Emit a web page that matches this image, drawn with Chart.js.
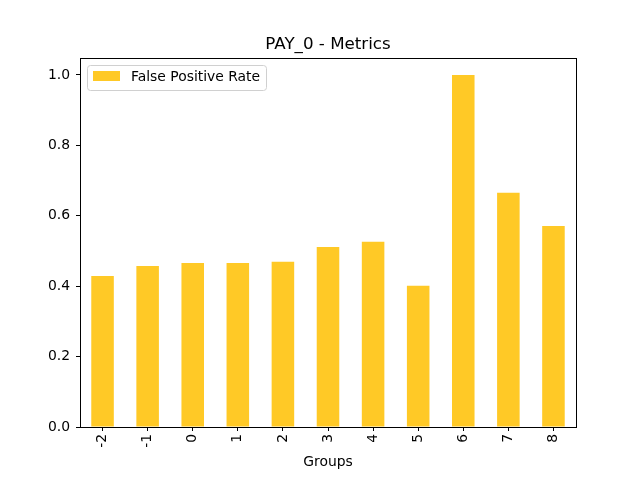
<!DOCTYPE html>
<html>
<head>
<meta charset="utf-8">
<script src="https://cdn.jsdelivr.net/npm/chart.js@4/dist/chart.umd.min.js"></script>
<style>
  html, body { margin: 0; padding: 0; background: #fff; }
  #myChart { display: block; }
</style>
</head>
<body>
<canvas id="myChart" width="640" height="480"></canvas>
<script>
const groups = ['-2', '-1', '0', '1', '2', '3', '4', '5', '6', '7', '8'];
const falsePositiveRate = [0.429, 0.457, 0.466, 0.466, 0.469, 0.511, 0.526, 0.401, 1.0, 0.665, 0.571];
const yTicks = [0.0, 0.2, 0.4, 0.6, 0.8, 1.0];

const barColor = '#ffc926';
const fontFamily = '"DejaVu Sans", sans-serif';

// title, frame and legend drawn the matplotlib way
const mplExtras = {
    id: 'mplExtras',
    afterDraw(chart) {
        const ctx = chart.ctx;
        const area = chart.chartArea;
        ctx.save();
        ctx.strokeStyle = '#000';
        ctx.lineWidth = 1;
        ctx.strokeRect(Math.round(area.left) + 0.5, Math.round(area.top) + 0.5,
            Math.round(area.right - area.left), Math.round(area.bottom - area.top));

        ctx.fillStyle = '#000';
        ctx.font = '16.7px ' + fontFamily;
        ctx.textAlign = 'center';
        ctx.textBaseline = 'middle';
        ctx.fillText('PAY_0 - Metrics', (area.left + area.right) / 2, 45);

        // legend box
        const lx = area.left + 7.5, ly = area.top + 7.5, lw = 179, lh = 25;
        ctx.beginPath();
        ctx.roundRect(lx, ly, lw, lh, 3);
        ctx.fillStyle = 'rgba(255,255,255,0.8)';
        ctx.fill();
        ctx.strokeStyle = '#d0d0d0';
        ctx.stroke();
        ctx.fillStyle = barColor;
        ctx.fillRect(area.left + 13, area.top + 13, 27, 10);
        ctx.fillStyle = '#000';
        ctx.font = '13.9px ' + fontFamily;
        ctx.textAlign = 'left';
        ctx.fillText(chart.data.datasets[0].label, area.left + 51, area.top + 19);
        ctx.restore();
    }
};

const ctx = document.getElementById('myChart');
const myChart = new Chart(ctx, {
    type: 'bar',
    data: {
        labels: groups,
        datasets: [{
            label: 'False Positive Rate',
            data: falsePositiveRate,
            backgroundColor: barColor,
            borderWidth: 0,
            barPercentage: 0.5,
            categoryPercentage: 1.0,
        }]
    },
    options: {
        responsive: false,
        animation: false,
        devicePixelRatio: 1,
        layout: { padding: { left: 0, right: 64, top: 58, bottom: 0 } },
        plugins: {
            legend: { display: false },
            title: { display: false },
            tooltip: { enabled: false },
        },
        scales: {
            x: {
                offset: true,
                grid: { drawOnChartArea: false, drawTicks: true, tickLength: 4, color: '#000', offset: false },
                border: { display: false },
                ticks: {
                    color: '#000',
                    font: { family: fontFamily, size: 13.9 },
                    minRotation: 90,
                    maxRotation: 90,
                    padding: 3,
                    autoSkip: false,
                },
                title: {
                    display: true,
                    text: 'Groups',
                    color: '#000',
                    font: { family: fontFamily, size: 13.9 },
                    padding: { top: 0, bottom: 9 },
                },
                afterFit(scale) { scale.height = 53; }
            },
            y: {
                min: 0,
                max: 1.048,
                grid: { drawOnChartArea: false, drawTicks: true, tickLength: 4, color: '#000' },
                border: { display: false },
                afterBuildTicks(scale) {
                    scale.ticks = yTicks.map(v => ({ value: v }));
                },
                ticks: {
                    color: '#000',
                    font: { family: fontFamily, size: 13.9 },
                    padding: 6,
                    callback: v => Number(v).toFixed(1),
                },
                afterFit(scale) { scale.width = 80; }
            }
        }
    },
    plugins: [mplExtras]
});
</script>
</body>
</html>
